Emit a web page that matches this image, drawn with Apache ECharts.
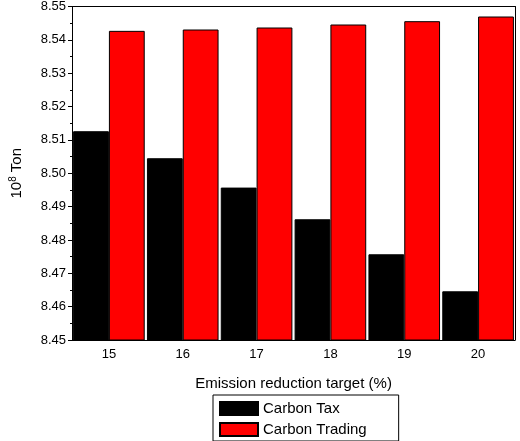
<!DOCTYPE html>
<html>
<head>
<meta charset="utf-8">
<script src="https://cdn.jsdelivr.net/npm/echarts@6/dist/echarts.min.js"></script>
<style>html,body{margin:0;background:#fff}#c{width:520px;height:441px}</style>
</head>
<body>
<div id="c"></div>
<script>
// Data
const categories = ['15', '16', '17', '18', '19', '20'];
const carbonTax = [8.5126, 8.5045, 8.4957, 8.4862, 8.4757, 8.4646];
const carbonTrading = [8.5427, 8.5431, 8.5437, 8.5446, 8.5456, 8.5470];
const yTicks = [8.45, 8.46, 8.47, 8.48, 8.49, 8.50, 8.51, 8.52, 8.53, 8.54, 8.55];

const font = 'Arial, "Liberation Sans", sans-serif';
const chart = echarts.init(document.getElementById('c'));

chart.setOption({
  animation: false,
  textStyle: { fontFamily: font },
  grid: { left: 66, right: 5, top: 6, bottom: 101 },
  legend: {
    orient: 'vertical',
    left: 213, bottom: 0,
    width: 170,
    itemWidth: 38, itemHeight: 13, itemGap: 6,
    padding: [6, 32, 4, 6],
    borderColor: '#000', borderWidth: 1,
    icon: 'rect',
    textStyle: { fontSize: 15, color: '#000', fontFamily: font },
    data: ['Carbon Tax', 'Carbon Trading']
  },
  xAxis: [{
    type: 'category',
    data: categories,
    axisLine: { lineStyle: { color: '#000', width: 1 } },
    axisTick: { alignWithLabel: true, inside: false, length: 4, lineStyle: { color: '#000' } },
    axisLabel: { fontSize: 13, color: '#000', margin: 8 },
    name: 'Emission reduction target (%)',
    nameLocation: 'middle', nameGap: 36,
    nameTextStyle: { fontSize: 15, color: '#000' }
  }, {
    type: 'category', data: categories, position: 'top',
    axisLine: { lineStyle: { color: '#000' } },
    axisTick: { show: false }, axisLabel: { show: false }
  }],
  yAxis: [{
    type: 'value',
    min: 8.45, max: 8.55, interval: 0.01,
    axisLine: { show: true, lineStyle: { color: '#000' } },
    axisTick: { show: true, length: 4, lineStyle: { color: '#000' } },
    minorTick: { show: true, splitNumber: 2, length: 2, lineStyle: { color: '#000' } },
    splitLine: { show: false },
    axisLabel: {
      fontSize: 13, color: '#000', margin: 6,
      formatter: v => yTicks.find(t => Math.abs(t - v) < 1e-6).toFixed(2)
    },
    name: '{a|10}{s|8}{a| Ton}',
    nameLocation: 'middle', nameGap: 46, nameRotate: 90,
    nameTextStyle: {
      rich: {
        a: { fontSize: 15, color: '#000', fontFamily: font },
        s: { fontSize: 10, color: '#000', fontFamily: font, verticalAlign: 'top', padding: [0, 0, 8, 0] }
      }
    }
  }, {
    type: 'value', min: 8.45, max: 8.55, interval: 0.01, position: 'right',
    axisLine: { show: true, lineStyle: { color: '#000' } },
    axisTick: { show: false }, axisLabel: { show: false }, splitLine: { show: false }
  }],
  series: [{
    name: 'Carbon Tax', type: 'bar', data: carbonTax,
    barGap: '0%', barCategoryGap: '3%',
    itemStyle: { color: '#000', borderColor: '#000', borderWidth: 1 }
  }, {
    name: 'Carbon Trading', type: 'bar', data: carbonTrading,
    itemStyle: { color: '#ff0000', borderColor: '#000', borderWidth: 1 }
  }]
});
</script>
</body>
</html>
